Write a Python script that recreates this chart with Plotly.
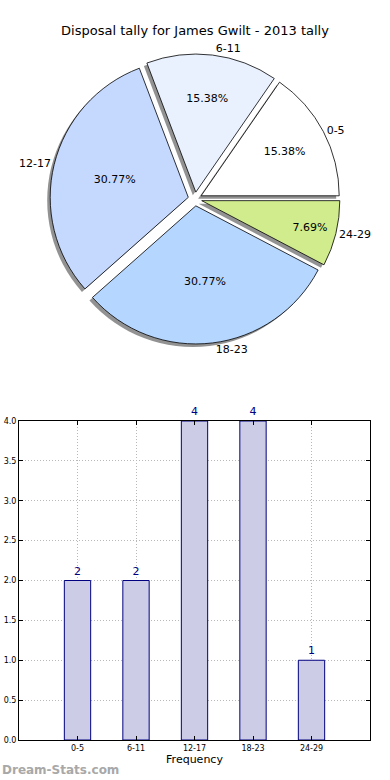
import plotly.graph_objects as go

categories = ["0-5", "6-11", "12-17", "18-23", "24-29"]
counts = [2, 2, 4, 4, 1]
slice_colors = ["#ffffff", "#e9f1ff", "#c5d9ff", "#b5d6ff", "#d0ec8c"]
y_ticks = [0.0, 0.5, 1.0, 1.5, 2.0, 2.5, 3.0, 3.5, 4.0]
title_text = "Disposal tally for James Gwilt - 2013 tally"
watermark = "Dream-Stats.com"

W, H = 390, 780
FONT = "DejaVu Sans"

def px_x(a, b):
    return [a / W, b / W]

def px_y(top, bottom):
    return [1 - bottom / H, 1 - top / H]

# plotly's counterclockwise pies put the end of the first slice at `rotation`;
# we want the first slice to start at 3 o'clock.
first_angle = 360.0 * counts[0] / sum(counts)
rot = 90 - first_angle

pull = [0.05] * len(categories)
cx, cy, half = 195, 199, 145
pie_dom_x = px_x(cx - half, cx + half)
pie_dom_y = px_y(cy - half, cy + half)
sh = 3
shadow_dom_x = px_x(cx - half - sh, cx + half - sh)
shadow_dom_y = px_y(cy - half + sh, cy + half + sh)

fig = go.Figure()

# shadow
fig.add_trace(go.Pie(
    labels=categories, values=counts, sort=False, direction="counterclockwise",
    rotation=rot, pull=pull, domain=dict(x=shadow_dom_x, y=shadow_dom_y),
    marker=dict(colors=["rgba(110,110,110,0.75)"] * 5, line=dict(width=0)),
    textinfo="none", hoverinfo="skip", showlegend=False,
))

# main pie with percentages
fig.add_trace(go.Pie(
    labels=categories, values=counts, sort=False, direction="counterclockwise",
    rotation=rot, pull=pull, domain=dict(x=pie_dom_x, y=pie_dom_y),
    marker=dict(colors=slice_colors, line=dict(color="#000000", width=0.8)),
    textinfo="percent", texttemplate="%{percent:.2%}", textposition="inside",
    insidetextorientation="horizontal",
    insidetextfont=dict(family=FONT, size=11, color="#000000"),
    showlegend=False,
))

# outside labels
fig.add_trace(go.Pie(
    labels=categories, values=counts, sort=False, direction="counterclockwise",
    rotation=rot, pull=pull, domain=dict(x=pie_dom_x, y=pie_dom_y),
    marker=dict(colors=["rgba(0,0,0,0)"] * 5, line=dict(width=0)),
    textinfo="label", textposition="outside",
    outsidetextfont=dict(family=FONT, size=11, color="#000000"),
    hoverinfo="skip", showlegend=False,
))

# bar chart
fig.add_trace(go.Bar(
    x=categories, y=counts, width=0.45,
    marker=dict(color="#ccccE6", line=dict(color="#000080", width=1)),
    text=[str(c) for c in counts], textposition="outside",
    textfont=dict(family=FONT, size=11, color="#000080"),
    cliponaxis=False, showlegend=False, xaxis="x", yaxis="y",
))

grid_dash = "1px,2px"

fig.update_layout(
    width=W, height=H,
    margin=dict(l=0, r=0, t=0, b=0),
    paper_bgcolor="white", plot_bgcolor="white",
    font=dict(family=FONT, color="#000000"),
    title=dict(text=title_text, x=0.5, xanchor="center", y=1 - 30 / H, yanchor="middle",
               font=dict(family=FONT, size=13, color="#000000")),
    xaxis=dict(
        domain=px_x(19, 370), range=[-1, 5], type="category", automargin=False,
        showline=True, linecolor="#000000", linewidth=1, mirror="ticks",
        ticks="inside", ticklen=4, tickcolor="#000000",
        showgrid=True, gridcolor="#b8b8b8", griddash=grid_dash, gridwidth=1,
        tickfont=dict(family=FONT, size=8, color="#000000"),
        title=dict(text="Frequency", font=dict(family=FONT, size=11, color="#000000"), standoff=2),
        zeroline=False, fixedrange=True,
    ),
    yaxis=dict(
        domain=px_y(421, 740), range=[0, 4], tickvals=y_ticks, tickformat=".1f",
        automargin=False,
        showline=True, linecolor="#000000", linewidth=1, mirror="ticks",
        ticks="inside", ticklen=4, tickcolor="#000000",
        showgrid=True, gridcolor="#b8b8b8", griddash=grid_dash, gridwidth=1,
        tickfont=dict(family=FONT, size=8, color="#000000"),
        zeroline=False, fixedrange=True,
    ),
    annotations=[dict(
        text="<b>" + watermark + "</b>", xref="paper", yref="paper", x=0, y=1 - 770 / H,
        xanchor="left", yanchor="middle", showarrow=False,
        font=dict(family=FONT, size=12, color="#a8a8a8"),
    )],
)

fig.write_html("out.html", config={"displayModeBar": False},
               post_script="document.body.style.margin='0';")
